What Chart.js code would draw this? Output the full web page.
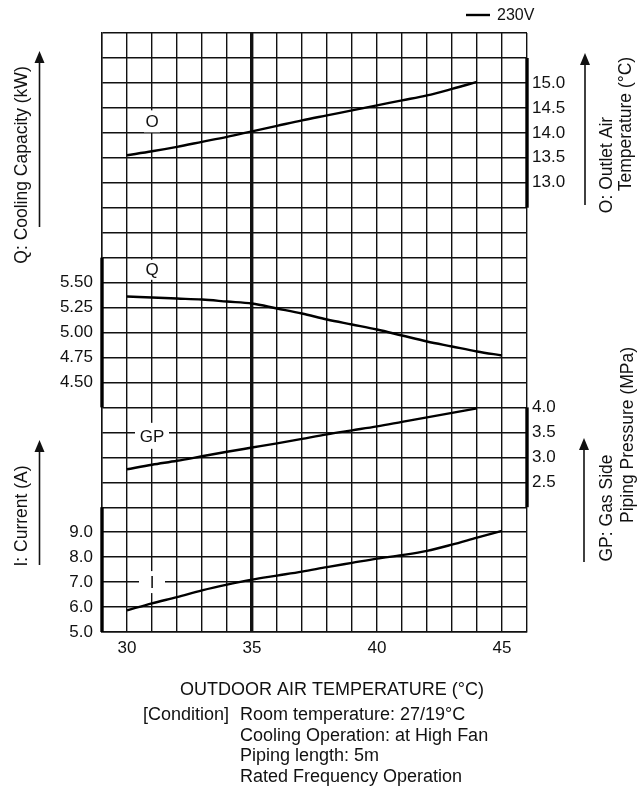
<!DOCTYPE html>
<html>
<head>
<meta charset="utf-8">
<script src="https://cdn.jsdelivr.net/npm/chart.js@4.4.1/dist/chart.umd.min.js"></script>
<style>
html,body{margin:0;padding:0;background:#fff;}
#wrap{width:640px;height:793px;position:relative;}
</style>
</head>
<body>
<div id="wrap"><canvas id="c" width="640" height="793"></canvas></div>
<script>
// ---------- DATA ----------
const outdoorTempsO  = [30,31,32,33,34,35,36,37,38,39,40,41,42,43,44];
const outletAirTemp  = [13.55,13.63,13.72,13.82,13.92,14.03,14.14,14.25,14.35,14.45,14.55,14.65,14.75,14.88,15.02];

const outdoorTempsQ  = [30,31,32,33,34,35,36,37,38,39,40,41,42,43,44,45];
const coolingCapacity= [5.36,5.35,5.34,5.33,5.31,5.29,5.24,5.19,5.13,5.08,5.03,4.97,4.91,4.86,4.81,4.77];

const outdoorTempsGP = [30,31,32,33,34,35,36,37,38,39,40,41,42,43,44];
const gasPressure    = [2.76,2.85,2.93,3.02,3.11,3.195,3.28,3.37,3.46,3.54,3.62,3.71,3.80,3.89,3.98];

const outdoorTempsI  = [30,31,32,33,34,35,36,37,38,39,40,41,42,43,44,45];
const current        = [5.87,6.15,6.40,6.67,6.90,7.10,7.26,7.42,7.60,7.77,7.94,8.08,8.25,8.50,8.78,9.05];

const xTickLabels  = ['30','35','40','45'];
const tickLabelsO  = ['15.0','14.5','14.0','13.5','13.0'];
const tickLabelsQ  = ['5.50','5.25','5.00','4.75','4.50'];
const tickLabelsGP = ['4.0','3.5','3.0','2.5'];
const tickLabelsI  = ['9.0','8.0','7.0','6.0','5.0'];

const legendLabel = '230V';
const xTitle = 'OUTDOOR AIR TEMPERATURE (\u00B0C)';
const conditionHead = '[Condition]';
const conditionLines = ['Room temperature: 27/19\u00B0C','Cooling Operation: at High Fan','Piping length: 5m','Rated Frequency Operation'];

// ---------- annotation settings ----------
const seriesTags = [
  {text:'O',  axis:'yO',  x:31, y:14.23, w:16, h:22},
  {text:'Q',  axis:'yQ',  x:31, y:5.628, w:18, h:20},
  {text:'GP', axis:'yGP', x:31, y:3.43,  w:34, h:26},
  {text:'I',  axis:'yI',  x:31, y:7.0,   w:26, h:22}
];
const axisBars = [
  {axis:'yO',  side:'right', from:15.5, to:12.5},
  {axis:'yQ',  side:'left',  from:5.75, to:4.25},
  {axis:'yGP', side:'right', from:4.0,  to:2.0},
  {axis:'yI',  side:'left',  from:10,   to:5}
];

const FONT = "'Liberation Sans', Arial, Helvetica, sans-serif";
const INK = '#111';
Chart.defaults.font.family = FONT;
Chart.defaults.color = INK;

function pts(xs, ys){ return xs.map((x,i)=>({x:x, y:ys[i]})); }

function vtext(ctx, text, x, y){
  ctx.save(); ctx.translate(x,y); ctx.rotate(-Math.PI/2);
  ctx.textAlign='center'; ctx.textBaseline='middle';
  ctx.fillText(text,0,0); ctx.restore();
}
function arrowUp(ctx, x, yBottom, yTip){
  ctx.save();
  ctx.strokeStyle=INK; ctx.fillStyle=INK; ctx.lineWidth=1.6;
  ctx.beginPath(); ctx.moveTo(x,yBottom); ctx.lineTo(x,yTip+10); ctx.stroke();
  ctx.beginPath(); ctx.moveTo(x,yTip); ctx.lineTo(x-5,yTip+12); ctx.lineTo(x+5,yTip+12); ctx.closePath(); ctx.fill();
  ctx.restore();
}

const decor = {
  id:'decor',
  afterLayout(chart){
    // the Q and GP axes share the chart edges (and label columns) with the I and O axes
    const s=chart.scales, a=chart.chartArea;
    s.yQ.left = 0; s.yQ.right = a.left; s.yQ.width = a.left;
    s.yGP.left = a.right; s.yGP.right = chart.width; s.yGP.width = chart.width - a.right;
  },
  beforeDraw(chart){
    const ctx=chart.ctx; ctx.save(); ctx.fillStyle='#fff'; ctx.fillRect(0,0,chart.width,chart.height); ctx.restore();
  },
  afterDatasetsDraw(chart){
    const ctx=chart.ctx, s=chart.scales;
    ctx.save();
    ctx.font = '17px '+FONT; ctx.textAlign='center'; ctx.textBaseline='middle';
    for(const t of seriesTags){
      const px=s.x.getPixelForValue(t.x), py=s[t.axis].getPixelForValue(t.y);
      ctx.fillStyle='#fff'; ctx.fillRect(px-t.w/2, py-t.h/2, t.w, t.h);
      ctx.fillStyle=INK; ctx.fillText(t.text, px, py+1);
    }
    ctx.restore();
  },
  afterDraw(chart){
    const ctx=chart.ctx, s=chart.scales, a=chart.chartArea;
    ctx.save();
    ctx.strokeStyle='#000'; ctx.lineWidth=3.4; ctx.lineCap='butt';
    for(const b of axisBars){
      const x = b.side==='left'? a.left : a.right;
      ctx.beginPath(); ctx.moveTo(x, s[b.axis].getPixelForValue(b.from)); ctx.lineTo(x, s[b.axis].getPixelForValue(b.to)); ctx.stroke();
    }
    ctx.restore();

    ctx.save();
    ctx.fillStyle=INK;
    ctx.font='17.5px '+FONT;
    vtext(ctx,'Q: Cooling Capacity (kW)',22,165);
    vtext(ctx,'I: Current (A)',22,516);
    vtext(ctx,'O: Outlet Air',607,165);
    vtext(ctx,'Temperature (\u00B0C)',626,124);
    vtext(ctx,'GP: Gas Side',607,508);
    vtext(ctx,'Piping Pressure (MPa)',628,435);
    ctx.restore();

    arrowUp(ctx,39.5,227,51);
    arrowUp(ctx,39.5,565,440);
    arrowUp(ctx,585,205,53);
    arrowUp(ctx,584,562,438);

    ctx.save();
    ctx.strokeStyle='#000'; ctx.lineWidth=2.4;
    ctx.beginPath(); ctx.moveTo(466,15); ctx.lineTo(490,15); ctx.stroke();
    ctx.fillStyle=INK; ctx.font='16px '+FONT; ctx.textAlign='left'; ctx.textBaseline='middle';
    ctx.fillText(legendLabel,497,16);
    ctx.restore();

    ctx.save();
    ctx.fillStyle=INK; ctx.font='18px '+FONT; ctx.textBaseline='middle';
    ctx.textAlign='center'; ctx.fillText(xTitle,332,690);
    ctx.textAlign='left';
    ctx.fillText(conditionHead,143,715);
    const ys=[715,736,756,777];
    conditionLines.forEach((l,i)=>ctx.fillText(l,240,ys[i]));
    ctx.restore();
  }
};

const lineStyle = {borderColor:'#000', borderWidth:2.4, pointRadius:0, fill:false, cubicInterpolationMode:'monotone'};
const tickFont = {size:17, family:FONT};

new Chart(document.getElementById('c'), {
  type:'line',
  data:{
    datasets:[
      Object.assign({label:'O', data:pts(outdoorTempsO,outletAirTemp), yAxisID:'yO'}, lineStyle),
      Object.assign({label:'Q', data:pts(outdoorTempsQ,coolingCapacity), yAxisID:'yQ'}, lineStyle),
      Object.assign({label:'GP', data:pts(outdoorTempsGP,gasPressure), yAxisID:'yGP'}, lineStyle),
      Object.assign({label:'I', data:pts(outdoorTempsI,current), yAxisID:'yI'}, lineStyle)
    ]
  },
  options:{
    responsive:false, animation:false, events:[],
    layout:{padding:{top:33,left:0,right:0,bottom:0}},
    plugins:{legend:{display:false}, tooltip:{enabled:false}},
    scales:{
      x:{
        type:'linear', position:'bottom', min:29, max:46,
        ticks:{stepSize:1, autoSkip:false, maxRotation:0, padding:6, font:tickFont, color:INK,
          callback:(v)=> xTickLabels.includes(String(v)) ? String(v) : ''},
        grid:{color:'#111', drawTicks:false, lineWidth:(c)=> (c.tick && c.tick.value===35) ? 3.4 : 1.4},
        border:{display:true, color:'#111', width:1.4},
        afterFit:(sc)=>{ sc.height = 161; }
      },
      yI:{
        type:'linear', position:'left', min:5, max:29, weight:1,
        ticks:{stepSize:1, autoSkip:false, padding:9, font:tickFont, color:INK,
          callback:(v)=>{ const s=Number(v).toFixed(1); return (v<=9.01 && tickLabelsI.includes(s)) ? s : ''; }},
        grid:{color:'#111', drawTicks:false, lineWidth:1.4},
        border:{display:true, color:'#111', width:1.4},
        afterFit:(sc)=>{ sc.width = 102; }
      },
      yQ:{
        type:'linear', position:'left', min:2, max:8, weight:0,
        ticks:{stepSize:0.25, autoSkip:false, padding:9, font:tickFont, color:INK,
          callback:(v)=>{ const s=Number(v).toFixed(2); return tickLabelsQ.includes(s) ? s : ''; }},
        grid:{display:false, drawTicks:false},
        border:{display:false},
        afterFit:(sc)=>{ sc.width = 0; }
      },
      yO:{
        type:'linear', position:'right', min:4, max:16, weight:1,
        ticks:{stepSize:0.5, autoSkip:false, padding:5, font:tickFont, color:INK,
          callback:(v)=>{ const s=Number(v).toFixed(1); return tickLabelsO.includes(s) ? s : ''; }},
        grid:{display:false, drawTicks:false},
        border:{display:false},
        afterFit:(sc)=>{ sc.width = 113; }
      },
      yGP:{
        type:'linear', position:'right', min:-0.5, max:11.5, weight:0,
        ticks:{stepSize:0.5, autoSkip:false, padding:5, font:tickFont, color:INK,
          callback:(v)=>{ const s=Number(v).toFixed(1); return (v<=4.01 && v>=2.49 && tickLabelsGP.includes(s)) ? s : ''; }},
        grid:{display:false, drawTicks:false},
        border:{display:false},
        afterFit:(sc)=>{ sc.width = 0; }
      }
    }
  },
  plugins:[decor]
});
</script>
</body>
</html>
